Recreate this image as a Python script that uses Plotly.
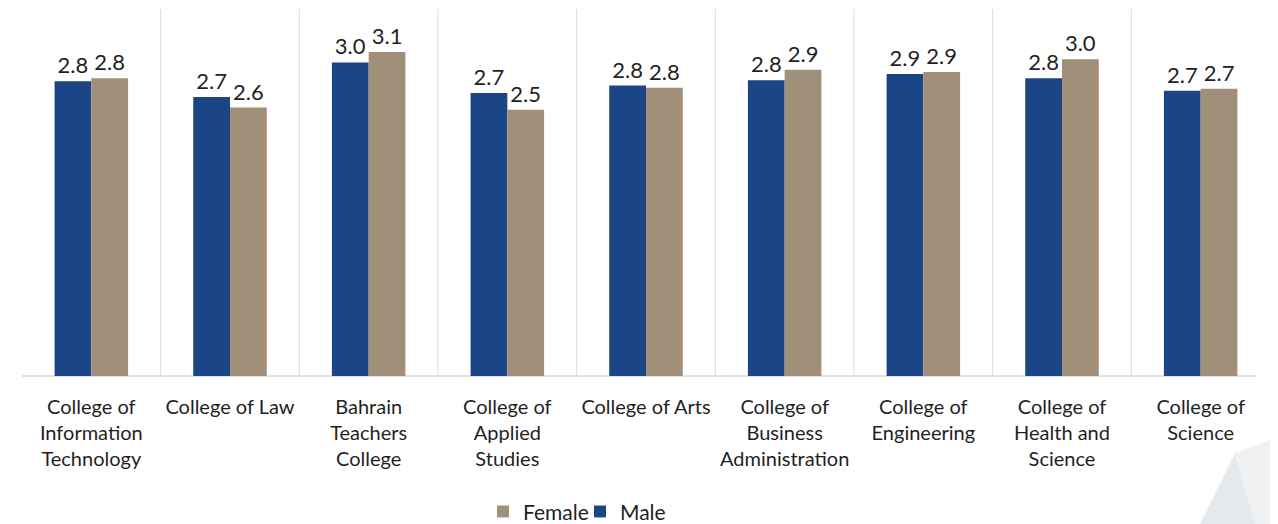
import plotly.graph_objects as go

categories = [
    "College of<br>Information<br>Technology",
    "College of Law",
    "Bahrain<br>Teachers<br>College",
    "College of<br>Applied<br>Studies",
    "College of Arts",
    "College of<br>Business<br>Administration",
    "College of<br>Engineering",
    "College of<br>Health and<br>Science",
    "College of<br>Science",
]
male = [2.81, 2.66, 2.99, 2.70, 2.77, 2.82, 2.88, 2.84, 2.72]
female = [2.84, 2.56, 3.09, 2.54, 2.75, 2.92, 2.90, 3.02, 2.74]

# page body has an 8px margin, so the figure is sized to fit the window
OFF = 8
W, H = 1278 - OFF, 524 - OFF
ML, MR, MT, MB = 14, 8, 1, 148
FONT = "Lato"
MALE_C = "#1B4586"
FEMALE_C = "#A09079"
TXT = "#1f1f1f"

fig = go.Figure()
fig.add_trace(go.Bar(
    x=categories, y=male, name="Male", marker=dict(color=MALE_C, line=dict(width=0)),
    texttemplate="%{y:.1f}", textposition="outside", cliponaxis=False,
    textfont=dict(family=FONT, size=22, color=TXT),
))
fig.add_trace(go.Bar(
    x=categories, y=female, name="Female", marker=dict(color=FEMALE_C, line=dict(width=0)),
    texttemplate="%{y:.1f}", textposition="outside", cliponaxis=False,
    textfont=dict(family=FONT, size=22, color=TXT),
))

shapes = []
for i in range(len(categories) - 1):
    shapes.append(dict(type="line", xref="x", yref="y domain", x0=i + 0.5, x1=i + 0.5,
                       y0=0, y1=1, line=dict(color="#d9d9d9", width=1), layer="below"))

# decorative background facets (bottom-right corner), screen px -> paper conversion
pw = W - ML - MR
ph = H - MT - MB
def px(xp, yp):
    return (xp - OFF - ML) / pw, (H - MB - (yp - OFF)) / ph
def path(pts):
    s = ""
    for k, (a, b) in enumerate(pts):
        x, y = px(a, b)
        s += ("M" if k == 0 else "L") + f"{x:.4f},{y:.4f}"
    return s + "Z"
shapes.append(dict(type="path", xref="paper", yref="paper",
                   path=path([(1200, 524), (1235, 453), (1255, 524)]),
                   fillcolor="#e6e9eb", line=dict(width=0), layer="below"))
shapes.append(dict(type="path", xref="paper", yref="paper",
                   path=path([(1235, 453), (1278, 437), (1278, 524), (1255, 524)]),
                   fillcolor="#f0f1f3", line=dict(width=0), layer="below"))
# baseline (category axis line)
shapes.append(dict(type="line", xref="paper", yref="paper", x0=0, x1=px(1256, 0)[0],
                   y0=0, y1=0, line=dict(color="#d9d9d9", width=1.5), layer="below"))

fig.update_layout(
    width=W, height=H,
    margin=dict(l=ML, r=MR, t=MT, b=MB, autoexpand=False),
    paper_bgcolor="white", plot_bgcolor="white",
    barmode="group", bargap=0.47, bargroupgap=0,
    font=dict(family=FONT, size=20, color=TXT),
    shapes=shapes,
    showlegend=True,
    legend=dict(orientation="h", x=(483 - OFF - ML) / pw, xanchor="left", y=-0.37, yanchor="middle",
                traceorder="reversed", font=dict(family=FONT, size=21, color=TXT),
                itemwidth=30, entrywidth=52, bgcolor="rgba(0,0,0,0)"),
    xaxis=dict(type="category", range=[-0.5, 8.5], showgrid=False, showline=False,
               ticks="", ticklabelstandoff=17, automargin=False, zeroline=False,
               tickfont=dict(family=FONT, size=20, color=TXT), fixedrange=True),
    yaxis=dict(range=[0, 3.5], visible=False, showgrid=False, zeroline=False,
               automargin=False),
)

fig.write_html("out.html")
